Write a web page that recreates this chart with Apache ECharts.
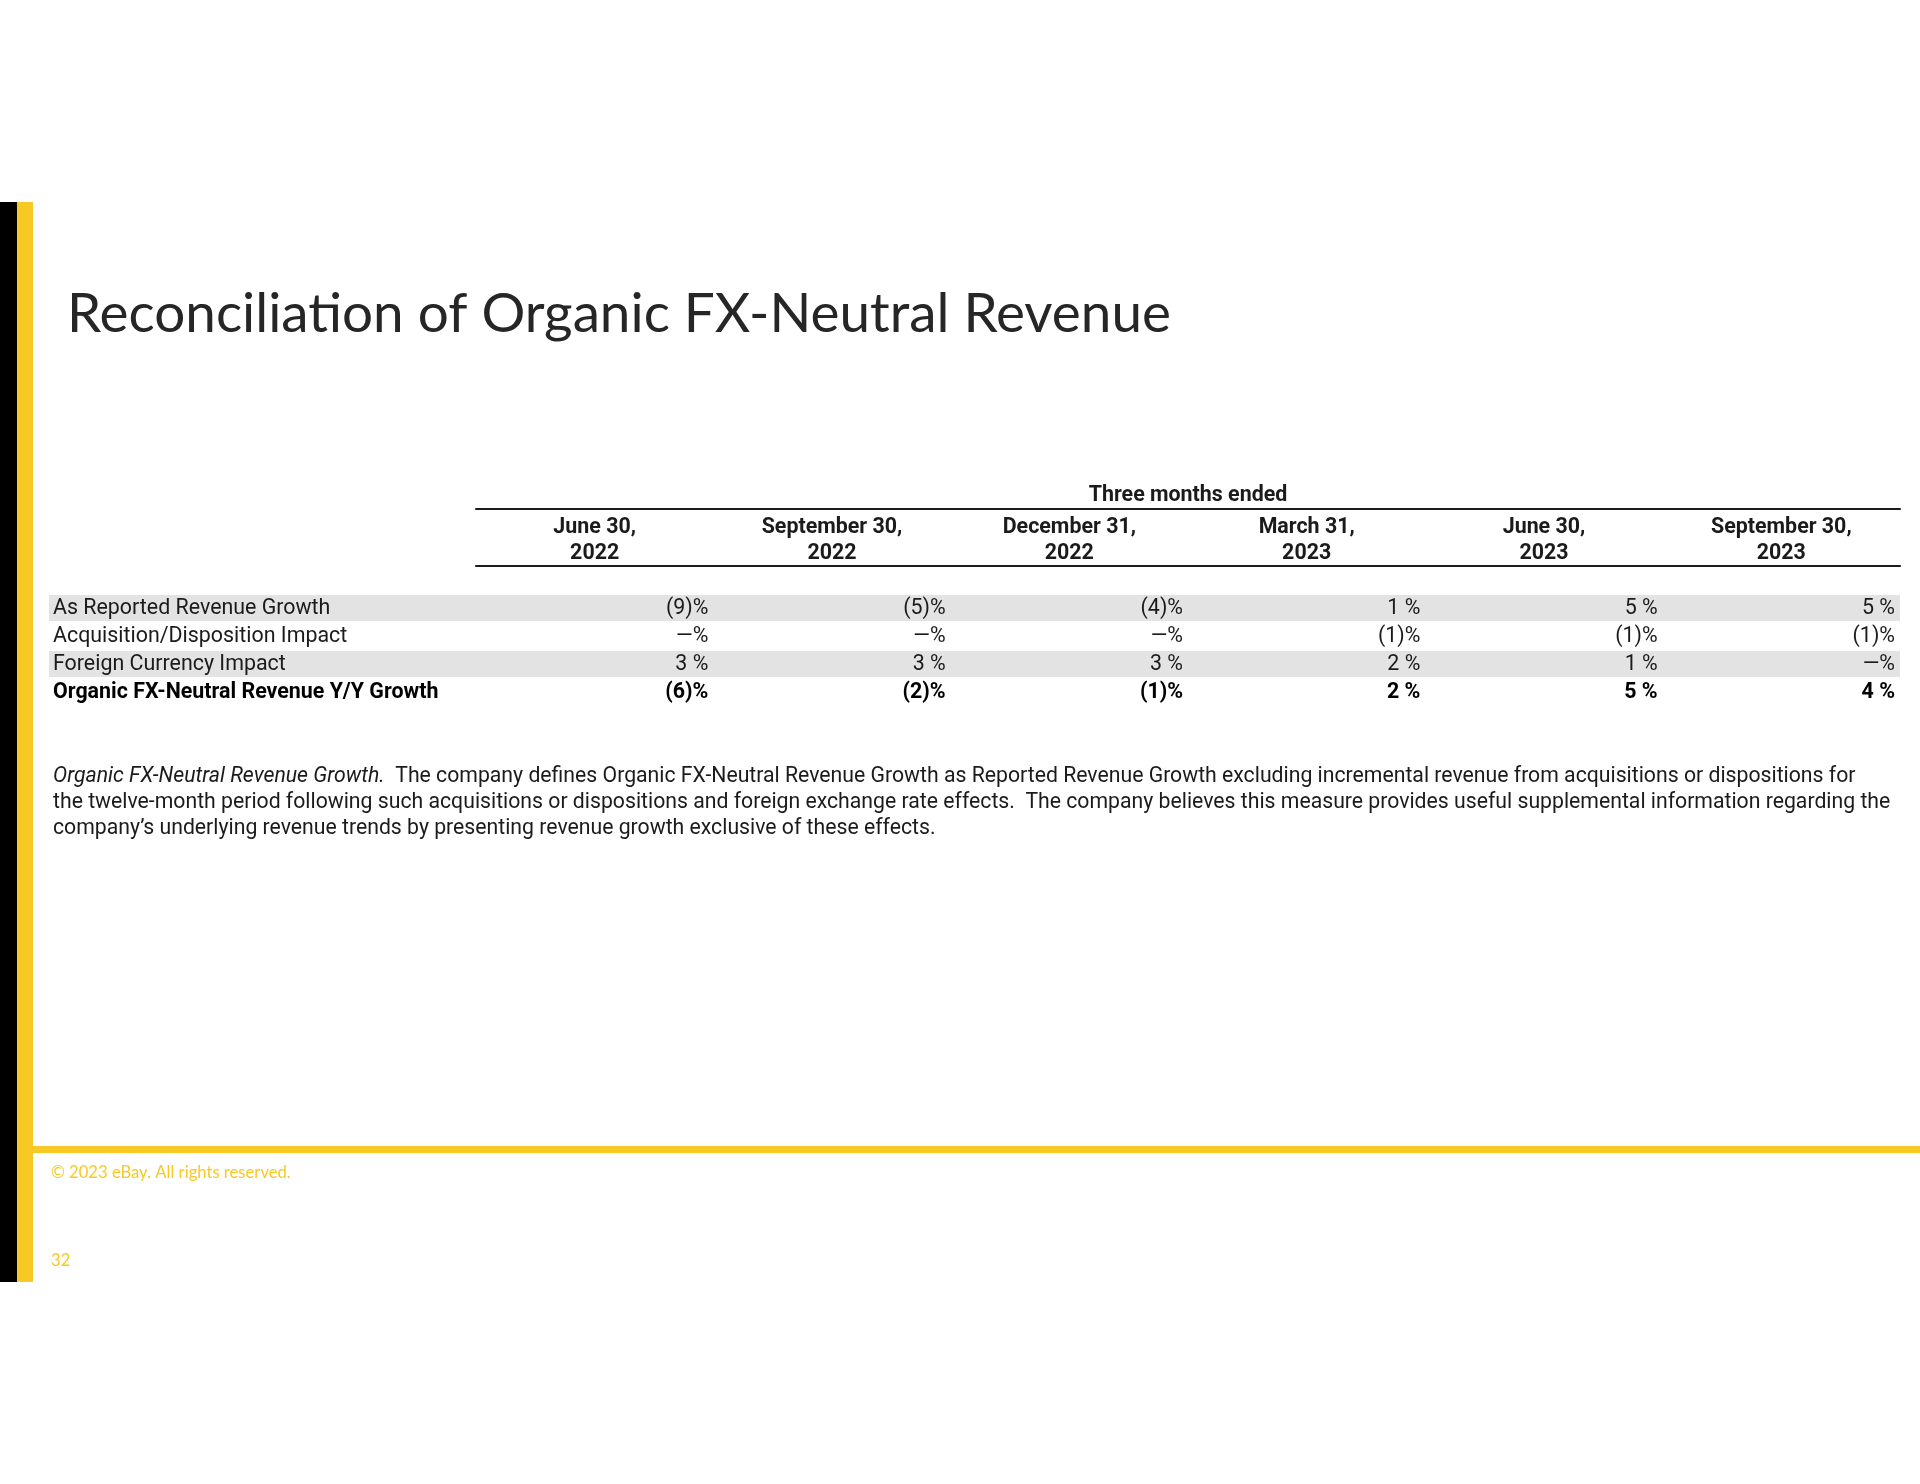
<!DOCTYPE html>
<html><head><meta charset="utf-8">
<script src="https://cdn.jsdelivr.net/npm/echarts/dist/echarts.min.js"></script>
<style>html,body{margin:0;padding:0;background:#fff}#c{width:1920px;height:1484px}</style>
</head><body><div id="c"></div>
<script>
// ---- data ----
const pageTitle = 'Reconciliation of Organic FX-Neutral Revenue';
const headerTitle = 'Three months ended';
const periods = ['June 30,\n2022', 'September 30,\n2022', 'December 31,\n2022', 'March 31,\n2023', 'June 30,\n2023', 'September 30,\n2023'];
const rowLabels = ['As Reported Revenue Growth', 'Acquisition/Disposition Impact', 'Foreign Currency Impact', 'Organic FX-Neutral Revenue Y/Y Growth'];
const asReported = [-9, -5, -4, 1, 5, 5];
const acqDisp = [0, 0, 0, -1, -1, -1];
const fxImpact = [3, 3, 3, 2, 1, 0];
const organicGrowth = [-6, -2, -1, 2, 5, 4];
const shadedRows = [0, 2];
const boldRow = 3;
const noteItalic = 'Organic FX-Neutral Revenue Growth.';
const noteLines = [
  '  The company defines Organic FX-Neutral Revenue Growth as Reported Revenue Growth excluding incremental revenue from acquisitions or dispositions for',
  'the twelve-month period following such acquisitions or dispositions and foreign exchange rate effects.  The company believes this measure provides useful supplemental information regarding the',
  'company\u2019s underlying revenue trends by presenting revenue growth exclusive of these effects.'
];
const footerText = '\u00A9 2023 eBay. All rights reserved.';
const pageNumber = '32';

// ---- helpers ----
const ctx = document.createElement('canvas').getContext('2d');
function fitSize(text, weight, family, target) {
  ctx.font = weight + ' 100px ' + family;
  return target * 100 / ctx.measureText(text).width;
}
const fmt = v => v === 0 ? '\u2014%' : (v < 0 ? '(' + (-v) + ')%' : v + ' %');

const TF = 'Roboto';
const tSize = Math.round(fitSize(rowLabels[0], 'normal', TF, 277) * 10) / 10;
const titleSize = fitSize(pageTitle, 'normal', 'Lato', 1104);
const noteSize = fitSize(noteItalic + noteLines[0], 'normal', TF, 1814);
const footSize = fitSize(footerText, 'normal', 'Lato', 240);
const YEL = '#F8C924';
const INK = '#1b1b1b';

const rows = [asReported, acqDisp, fxImpact, organicGrowth];
const cellData = [];
rows.forEach((arr, r) => arr.forEach((v, c) => cellData.push([c, r, v])));

const chart = echarts.init(document.getElementById('c'), null, {renderer: 'canvas'});
const gridLeft = 476, labelX = 53, bandX = 49;

chart.setOption({
  backgroundColor: '#fff',
  animation: false,
  grid: {left: gridLeft, right: 20, top: 595, height: 112},
  xAxis: [{
    type: 'category', data: periods, position: 'top', offset: 29,
    axisLine: {show: true, lineStyle: {color: INK, width: 2}},
    axisTick: {show: false}, splitLine: {show: false},
    axisLabel: {interval: 0, fontFamily: TF, fontWeight: 'bold', fontSize: tSize, lineHeight: 26, color: INK, margin: -1}
  }, {
    type: 'category', data: periods, position: 'top', offset: 86,
    axisLine: {show: true, lineStyle: {color: INK, width: 2}},
    axisTick: {show: false}, axisLabel: {show: false}, splitLine: {show: false},
    name: headerTitle, nameLocation: 'middle', nameGap: 3,
    nameTextStyle: {fontFamily: TF, fontWeight: 'bold', fontSize: tSize, color: INK}
  }],
  yAxis: {
    type: 'category', data: rowLabels, inverse: true, z: 10,
    axisLine: {show: false}, axisTick: {show: false}, splitLine: {show: false},
    axisLabel: {
      align: 'left', margin: gridLeft - labelX, fontFamily: TF, fontSize: tSize, color: INK,
      formatter: (v, i) => i === boldRow ? '{b|' + v + '}' : v,
      rich: {b: {fontFamily: TF, fontWeight: 'bold', fontSize: tSize, color: '#000'}}
    }
  },
  series: [{
    type: 'custom', z: -1,
    data: shadedRows.map(r => [0, r]),
    renderItem: (params, api) => {
      const p = api.coord([0, api.value(1)]);
      const h = api.size([0, 1])[1];
      const cs = params.coordSys;
      return {type: 'rect', shape: {x: bandX, y: p[1] - h / 2 + 0, width: cs.x + cs.width - bandX, height: h - 2},
        style: {fill: '#e3e3e3'}};
    }
  }, {
    type: 'custom', z: 5,
    data: cellData,
    renderItem: (params, api) => {
      const r = api.value(1);
      const p = api.coord([api.value(0), r]);
      const cw = api.size([1, 0])[0];
      return {type: 'text', x: p[0] + cw / 2 - 5, y: p[1],
        style: {text: fmt(api.value(2)), align: 'right', verticalAlign: 'middle',
          font: (r === boldRow ? 'bold ' : '') + tSize + 'px ' + TF, fill: r === boldRow ? '#000' : INK}};
    }
  }],
  graphic: [
    {type: 'rect', shape: {x: 0, y: 202, width: 17, height: 1080}, style: {fill: '#000'}},
    {type: 'rect', shape: {x: 17, y: 202, width: 16, height: 1080}, style: {fill: YEL}},
    {type: 'rect', shape: {x: 33, y: 1146, width: 1887, height: 7}, style: {fill: YEL}},
    {type: 'text', x: 67, y: 314, style: {text: pageTitle, font: titleSize + 'px Lato', fill: '#262626', verticalAlign: 'middle'}},
    {type: 'text', x: labelX, y: 764, style: {
      text: '{i|' + noteItalic + '}' + noteLines[0] + '\n' + noteLines[1] + '\n' + noteLines[2],
      font: noteSize + 'px ' + TF, fill: INK, lineHeight: 25.7, verticalAlign: 'top',
      rich: {i: {fontStyle: 'italic', fontFamily: TF, fontSize: noteSize, fill: INK, lineHeight: 25.7}}
    }},
    {type: 'text', x: 51, y: 1173, style: {text: footerText, font: footSize + 'px Lato', fill: YEL, verticalAlign: 'middle'}},
    {type: 'text', x: 51, y: 1261, style: {text: pageNumber, font: footSize + 'px Lato', fill: YEL, verticalAlign: 'middle'}}
  ]
});
</script></body></html>
